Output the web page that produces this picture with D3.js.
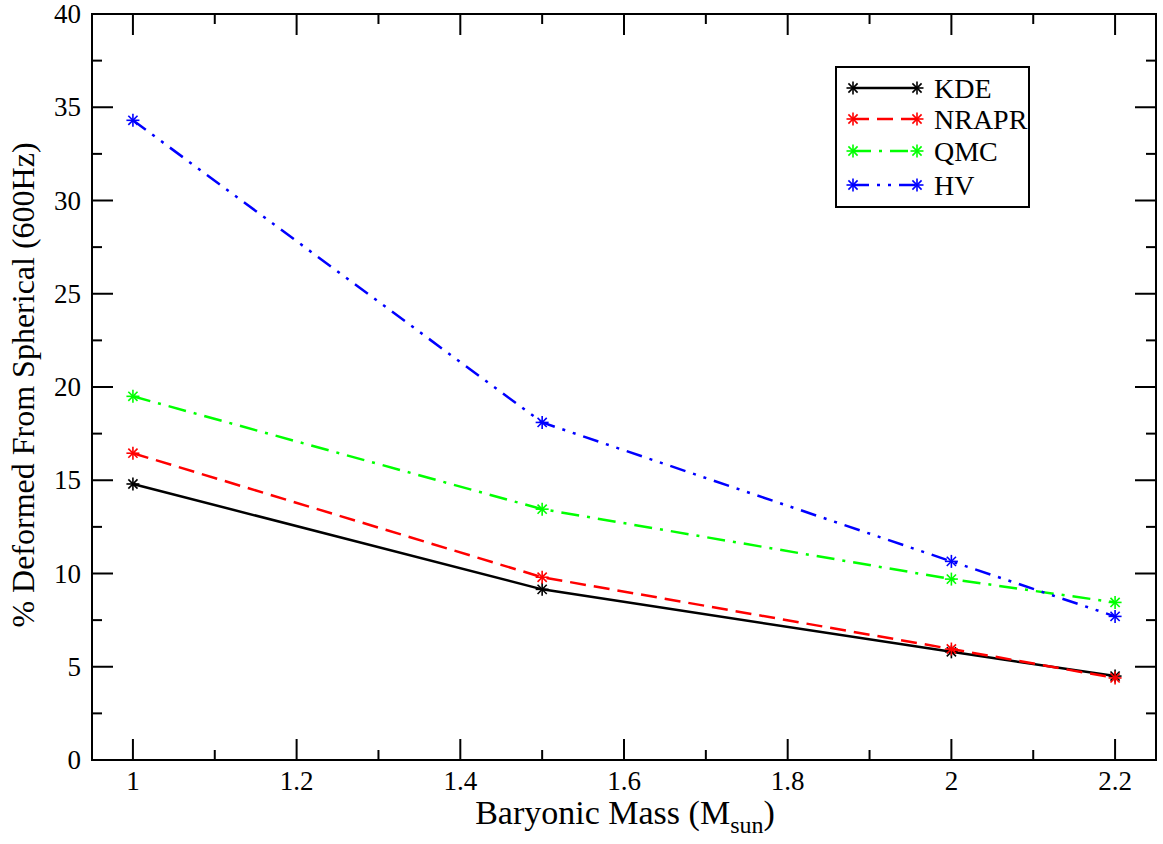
<!DOCTYPE html>
<html>
<head>
<meta charset="utf-8">
<script src="https://cdn.jsdelivr.net/npm/d3@7"></script>
<style>
  body { margin: 0; background: #fff; }
  text { font-family: "Liberation Serif", "Times New Roman", serif; }
</style>
</head>
<body>
<svg width="1163" height="844"></svg>
<script>
// baryonic mass values
var masses = [1, 1.5, 2, 2.2]
var kde = [14.8, 9.15, 5.8, 4.5]
var nrapr = [16.45, 9.8, 5.95, 4.4]
var qmc = [19.5, 13.45, 9.7, 8.45]
var hv = [34.3, 18.1, 10.65, 7.7]
var seriesNames = ['KDE', 'NRAPR', 'QMC', 'HV']
var xTicks = [1, 1.2, 1.4, 1.6, 1.8, 2, 2.2]
var yTicks = [0, 5, 10, 15, 20, 25, 30, 35, 40]

var series = [
  { name: seriesNames[0], values: kde, color: '#000000', dash: null },
  { name: seriesNames[1], values: nrapr, color: '#ff0000', dash: '16,8' },
  { name: seriesNames[2], values: qmc, color: '#00ff00', dash: '18,8,3,8' },
  { name: seriesNames[3], values: hv, color: '#0000ff', dash: '16,8,3,8,3,8' }
]

var pLeft = 92, pRight = 1156, pTop = 14, pBottom = 760
var svg = d3.select('svg')

var x = d3.scaleLinear().domain([0.95, 2.25]).range([pLeft, pRight])
var y = d3.scaleLinear().domain([0, 40]).range([pBottom, pTop])

// frame
svg.append('rect')
  .attr('x', pLeft).attr('y', pTop)
  .attr('width', pRight - pLeft).attr('height', pBottom - pTop)
  .attr('fill', 'none').attr('stroke', '#000').attr('stroke-width', 2)

// ticks, inward on all four sides
var xMinor = [1.1, 1.3, 1.5, 1.7, 1.9, 2.1]
var yMinor = [2.5, 7.5, 12.5, 17.5, 22.5, 27.5, 32.5, 37.5]
var tickG = svg.append('g').attr('stroke', '#000').attr('stroke-width', 2)
xTicks.forEach(function (t) {
  tickG.append('line').attr('x1', x(t)).attr('x2', x(t)).attr('y1', pBottom).attr('y2', pBottom - 21)
  tickG.append('line').attr('x1', x(t)).attr('x2', x(t)).attr('y1', pTop).attr('y2', pTop + 21)
})
xMinor.forEach(function (t) {
  tickG.append('line').attr('x1', x(t)).attr('x2', x(t)).attr('y1', pBottom).attr('y2', pBottom - 10)
  tickG.append('line').attr('x1', x(t)).attr('x2', x(t)).attr('y1', pTop).attr('y2', pTop + 10)
})
yTicks.forEach(function (t) {
  tickG.append('line').attr('x1', pLeft).attr('x2', pLeft + 21).attr('y1', y(t)).attr('y2', y(t))
  tickG.append('line').attr('x1', pRight).attr('x2', pRight - 21).attr('y1', y(t)).attr('y2', y(t))
})
yMinor.forEach(function (t) {
  tickG.append('line').attr('x1', pLeft).attr('x2', pLeft + 10).attr('y1', y(t)).attr('y2', y(t))
  tickG.append('line').attr('x1', pRight).attr('x2', pRight - 10).attr('y1', y(t)).attr('y2', y(t))
})

// tick labels
svg.selectAll('.xl').data(xTicks).enter().append('text')
  .attr('x', function (d) { return x(d) })
  .attr('y', pBottom + 30)
  .attr('text-anchor', 'middle')
  .attr('font-size', 27)
  .text(function (d) { return d })
svg.selectAll('.yl').data(yTicks).enter().append('text')
  .attr('x', pLeft - 11)
  .attr('y', function (d) { return y(d) + 9 })
  .attr('text-anchor', 'end')
  .attr('font-size', 27)
  .text(function (d) { return d })

// axis titles
var xt = svg.append('text')
  .attr('x', 625).attr('y', 824)
  .attr('text-anchor', 'middle')
  .attr('font-size', 34)
xt.append('tspan').text('Baryonic Mass (M')
xt.append('tspan').attr('font-size', 24).attr('dy', 9).text('sun')
xt.append('tspan').attr('dy', -9).text(')')

svg.append('text')
  .attr('transform', 'translate(34,385) rotate(-90)')
  .attr('text-anchor', 'middle')
  .attr('font-size', 32)
  .text('% Deformed From Spherical (600Hz)')

// asterisk marker
function star (g, cx, cy, color, r) {
  for (var i = 0; i < 4; i++) {
    var a = i * Math.PI / 4
    g.append('line')
      .attr('x1', cx - r * Math.cos(a)).attr('y1', cy - r * Math.sin(a))
      .attr('x2', cx + r * Math.cos(a)).attr('y2', cy + r * Math.sin(a))
      .attr('stroke', color).attr('stroke-width', 1.6)
  }
}

var line = d3.line()
  .x(function (d, i) { return x(masses[i]) })
  .y(function (d) { return y(d) })

series.forEach(function (s) {
  var g = svg.append('g')
  g.append('path')
    .attr('d', line(s.values))
    .attr('fill', 'none')
    .attr('stroke', s.color)
    .attr('stroke-width', 2.5)
    .attr('stroke-dasharray', s.dash)
  s.values.forEach(function (v, i) { star(g, x(masses[i]), y(v), s.color, 6.5) })
})

// legend
svg.append('rect')
  .attr('x', 836).attr('y', 67).attr('width', 193).attr('height', 140)
  .attr('fill', '#fff').attr('stroke', '#000').attr('stroke-width', 2)
var rowY = [88, 119, 151, 185]
series.forEach(function (s, i) {
  var g = svg.append('g')
  g.append('line')
    .attr('x1', 853).attr('x2', 917).attr('y1', rowY[i]).attr('y2', rowY[i])
    .attr('stroke', s.color).attr('stroke-width', 2.5)
    .attr('stroke-dasharray', s.dash)
  star(g, 853, rowY[i], s.color, 6.5)
  star(g, 917, rowY[i], s.color, 6.5)
  g.append('text')
    .attr('x', 934).attr('y', rowY[i] + 10)
    .attr('font-size', 28)
    .text(s.name)
})
</script>
</body>
</html>
